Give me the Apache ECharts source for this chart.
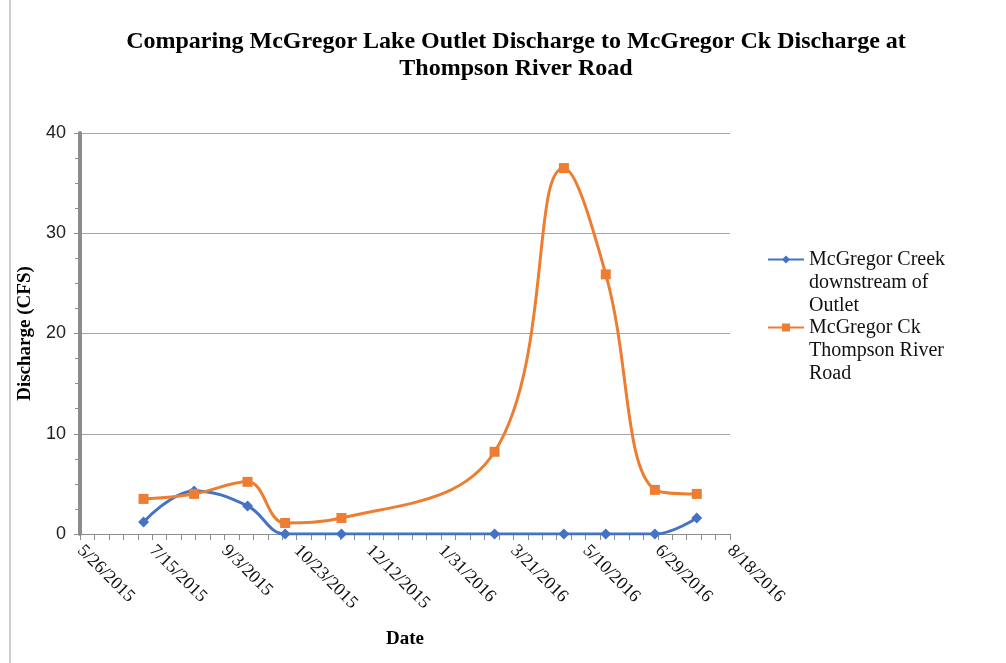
<!DOCTYPE html>
<html>
<head>
    <meta charset="utf-8" />
    <title>McGregor discharge</title>
    <style>
        html, body { margin: 0; padding: 0; background: #fff; }
        #main { width: 1006px; height: 663px; }
    </style>
    <script src="https://cdn.jsdelivr.net/npm/echarts@6/dist/echarts.min.js"></script>
</head>
<body>
<div id="main"></div>
<script>
    // sample dates
    var dates = ['2015-07-09', '2015-08-13', '2015-09-19', '2015-10-15', '2015-11-23',
        '2016-03-08', '2016-04-25', '2016-05-24', '2016-06-27', '2016-07-26'];
    // discharge (CFS)
    var outletFlow = [1.2, 4.3, 2.8, 0, 0, 0, 0, 0, 0, 1.6];
    var thompsonFlow = [3.5, 4.0, 5.2, 1.1, 1.6, 8.2, 36.5, 25.9, 4.4, 4.0];
    var seriesNames = ['McGregor Creek downstream of Outlet', 'McGregor Ck Thompson River Road'];
    // two blank lines in front so the first text line sits level with the icon
    var legendText = ['\n\nMcGregor Creek\ndownstream of\nOutlet', '\n\nMcGregor Ck\nThompson River\nRoad'];
    // x axis range as excel serial days, ticks every 50 days
    var xMin = 42150, xMax = 42600, xStep = 50;

    function toSerial(s) {
        var p = s.split('-');
        return Date.UTC(+p[0], +p[1] - 1, +p[2]) / 86400000 + 25569;
    }
    function fmtSerial(v) {
        var d = new Date((v - 25569) * 86400000);
        return (d.getUTCMonth() + 1) + '/' + d.getUTCDate() + '/' + d.getUTCFullYear();
    }
    function pairs(vals) {
        return vals.map(function (v, i) { return [toSerial(dates[i]), v]; });
    }

    var font = 'Liberation Serif';
    var legendStyle = { fontFamily: font, fontSize: 20, color: '#111', lineHeight: 23 };
    function makeLegend(i, top) {
        return {
            orient: 'vertical',
            left: 762,
            top: top,
            itemWidth: 36,
            itemHeight: 10,
            data: [seriesNames[i]],
            formatter: function () { return legendText[i]; },
            textStyle: legendStyle
        };
    }

    var chart = echarts.init(document.getElementById('main'));
    chart.setOption({
        backgroundColor: '#fff',
        animation: false,
        textStyle: { fontFamily: font },
        title: {
            text: 'Comparing McGregor Lake Outlet Discharge to McGregor Ck Discharge at\nThompson River Road',
            left: 511,
            top: 23,
            textAlign: 'center',
            textStyle: { fontFamily: font, fontSize: 24, fontWeight: 'bold', color: '#000', lineHeight: 27 }
        },
        grid: { left: 80, right: 276, top: 133, bottom: 129 },
        legend: [makeLegend(0, 254 - 57), makeLegend(1, 322 - 57)],
        xAxis: {
            type: 'value',
            min: xMin,
            max: xMax,
            interval: xStep,
            name: 'Date',
            nameLocation: 'middle',
            nameGap: 96,
            nameTextStyle: { fontFamily: font, fontSize: 19, fontWeight: 'bold', color: '#000' },
            axisLine: { lineStyle: { color: '#8c8c8c', width: 1 } },
            axisTick: { show: true, length: 6, lineStyle: { color: '#8c8c8c' } },
            minorTick: { show: true, splitNumber: 5, length: 6, lineStyle: { color: '#8c8c8c' } },
            splitLine: { show: false },
            axisLabel: {
                rotate: -45,
                margin: 14,
                fontSize: 18,
                color: '#111',
                fontFamily: font,
                formatter: fmtSerial
            }
        },
        yAxis: {
            type: 'value',
            min: 0,
            max: 40,
            interval: 10,
            name: 'Discharge (CFS)',
            nameLocation: 'middle',
            nameGap: 43,
            nameTextStyle: { fontFamily: font, fontSize: 19, fontWeight: 'bold', color: '#000' },
            axisLine: { show: true, lineStyle: { color: '#8c8c8c', width: 4 } },
            axisTick: { show: true, length: 6, lineStyle: { color: '#8c8c8c' } },
            minorTick: { show: true, splitNumber: 4, length: 5, lineStyle: { color: '#8c8c8c' } },
            splitLine: { lineStyle: { color: '#a6a6a6', width: 1 } },
            axisLabel: { fontSize: 18, color: '#222', fontFamily: 'Liberation Sans', margin: 14 }
        },
        series: [
            {
                name: seriesNames[0],
                type: 'line',
                smooth: 0.4,
                data: pairs(outletFlow),
                symbol: 'diamond',
                symbolSize: 11,
                itemStyle: { color: '#4472c4' },
                lineStyle: { color: '#4472c4', width: 3 }
            },
            {
                name: seriesNames[1],
                type: 'line',
                smooth: 0.4,
                data: pairs(thompsonFlow),
                symbol: 'rect',
                symbolSize: 10,
                itemStyle: { color: '#ed7d31' },
                lineStyle: { color: '#ed7d31', width: 3 }
            }
        ],
        graphic: [{
            type: 'line',
            shape: { x1: 10, y1: 0, x2: 10, y2: 663 },
            style: { stroke: '#9a9a9a', lineWidth: 1 }
        }]
    });
</script>
</body>
</html>
